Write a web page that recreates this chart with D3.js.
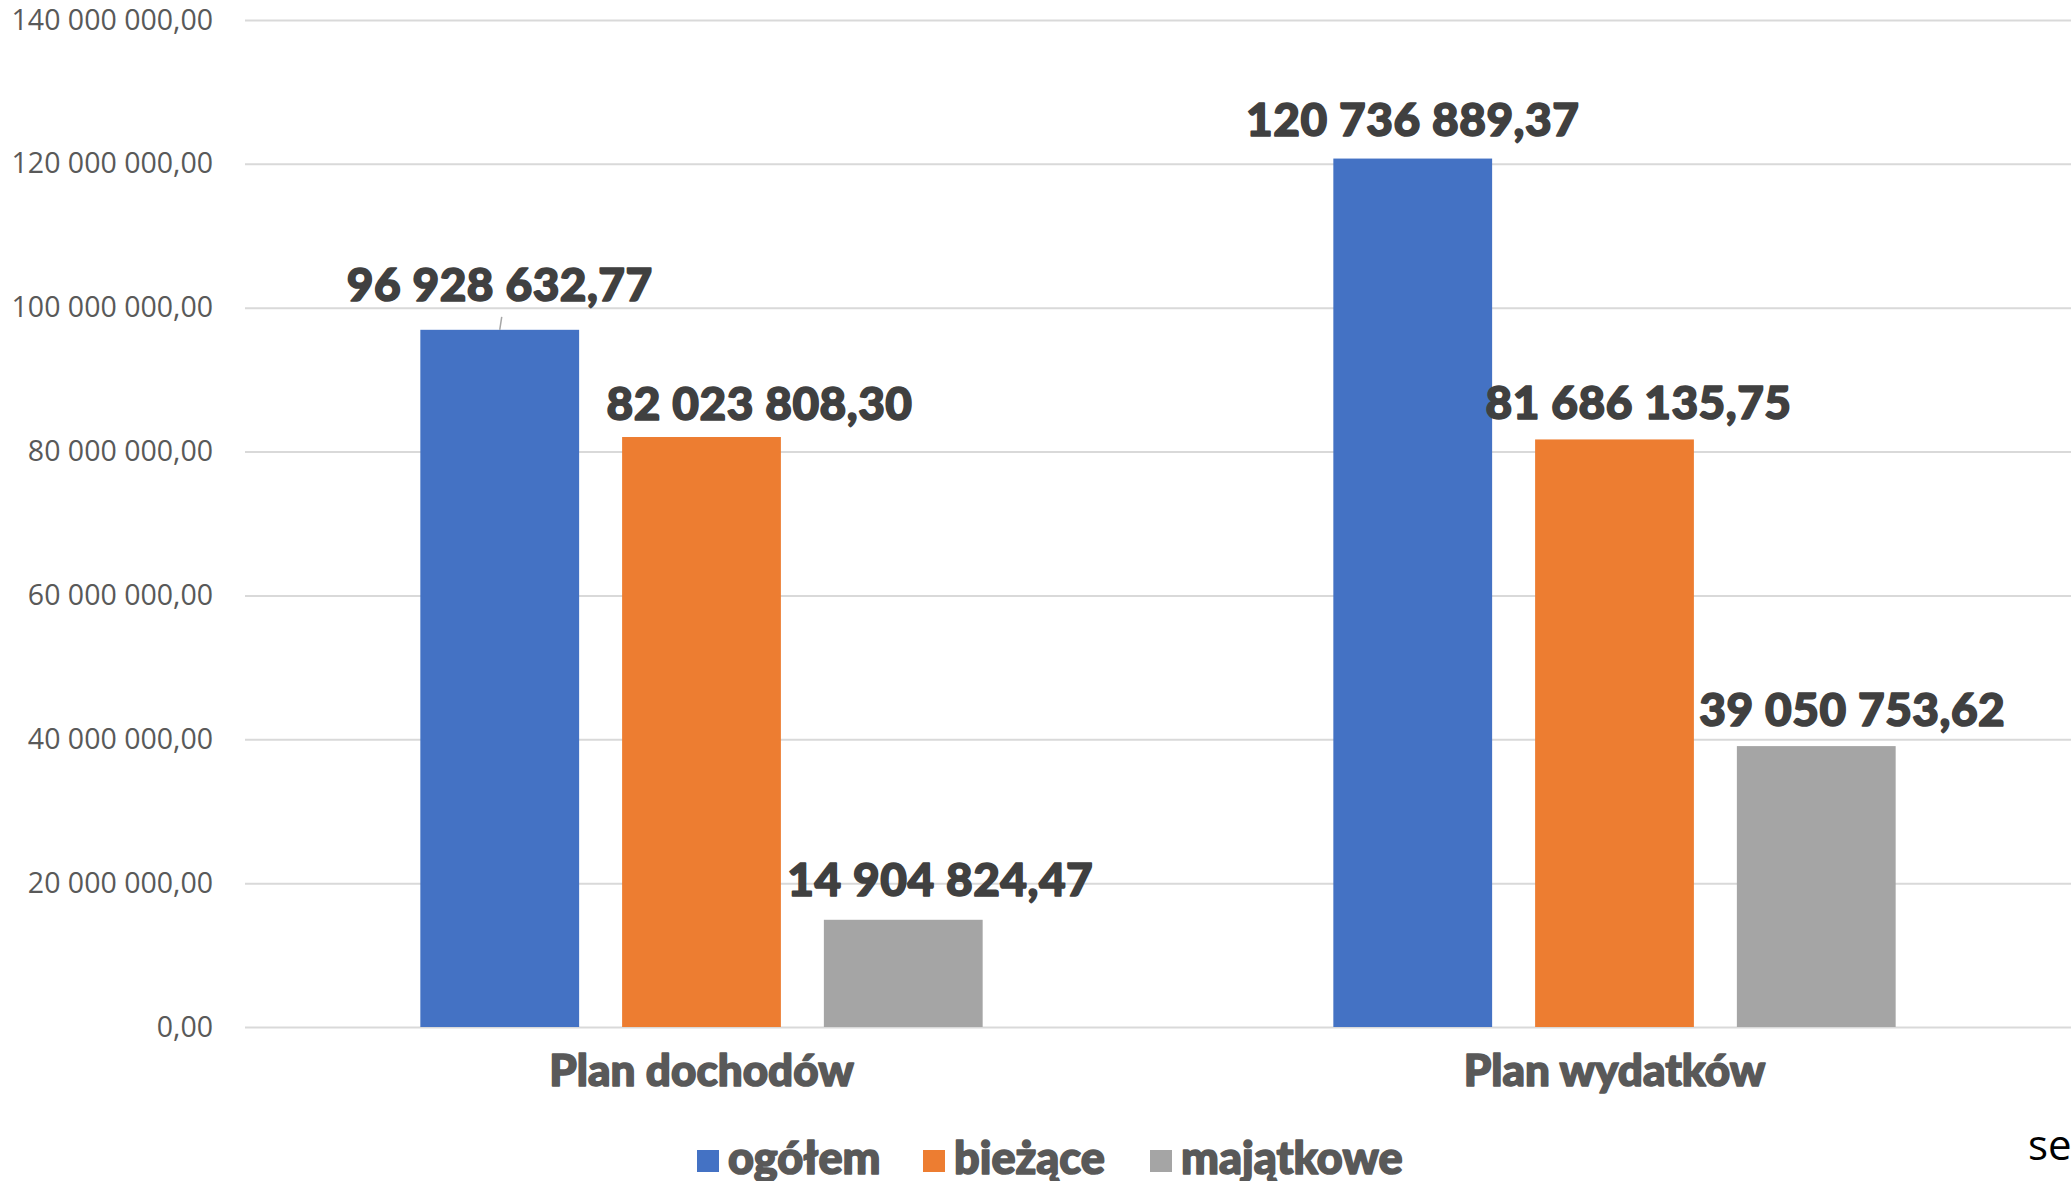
<!DOCTYPE html>
<html>
<head>
<meta charset="utf-8">
<script src="https://cdn.jsdelivr.net/npm/d3@7"></script>
<style>
    body { margin: 0; background: #fff; }
    svg { display: block; }
</style>
</head>
<body>
<div id="chart"></div>
<script>
// dane wykresu
const categories = ["Plan dochodów", "Plan wydatków"];
const seriesNames = ["ogółem", "bieżące", "majątkowe"];
const seriesColors = ["#4472c4", "#ed7d31", "#a5a5a5"];
const ogolem = [96928632.77, 120736889.37];
const biezace = [82023808.30, 81686135.75];
const majatkowe = [14904824.47, 39050753.62];
const yTicks = [0, 20000000, 40000000, 60000000, 80000000, 100000000, 120000000, 140000000];

const width = 2071;
const height = 1181;
const plot = { left: 245, right: 2071, top: 20, bottom: 1027 };

const pl = d3.formatLocale({ decimal: ",", thousands: " ", grouping: [3], currency: ["", ""] });
const fmt = pl.format(",.2f");

const seriesValues = [ogolem, biezace, majatkowe];
const rows = [];
categories.forEach((cat, ci) => {
    seriesNames.forEach((s, si) => {
        rows.push({ cat: cat, series: s, si: si, value: seriesValues[si][ci] });
    });
});

const svg = d3.select("#chart")
    .append("svg")
    .attr("width", width)
    .attr("height", height);

svg.append("rect").attr("width", width).attr("height", height).attr("fill", "#fff");

const x0 = d3.scaleBand()
    .domain(categories)
    .range([plot.left, plot.right])
    .padding(0);

const x1 = d3.scaleBand()
    .domain(seriesNames)
    .range([0, x0.bandwidth()])
    .paddingInner(0.213)
    .paddingOuter(0.869);

const y = d3.scaleLinear()
    .domain([0, 140000000])
    .range([plot.bottom, plot.top]);

// siatka + etykiety osi Y
const yAxis = svg.append("g")
    .attr("transform", `translate(${plot.left},0)`)
    .call(d3.axisLeft(y)
        .tickValues(yTicks)
        .tickSize(-(plot.right - plot.left))
        .tickPadding(32)
        .tickFormat(fmt));

yAxis.select(".domain").remove();
yAxis.selectAll(".tick line")
    .attr("stroke", "#d9d9d9")
    .attr("stroke-width", 2);
yAxis.selectAll(".tick text")
    .attr("fill", "#595959")
    .style("font-family", "'Open Sans', sans-serif")
    .style("font-size", "28.5px");

// slupki
svg.append("g")
    .selectAll("rect")
    .data(rows)
    .enter()
    .append("rect")
    .attr("x", (d) => x0(d.cat) + x1(d.series))
    .attr("y", (d) => y(d.value))
    .attr("width", x1.bandwidth())
    .attr("height", (d) => y(0) - y(d.value))
    .attr("fill", (d) => seriesColors[d.si]);

// przesuniecia etykiet (recznie jak w oryginale)
const labelNudge = [[0, -29], [58, -17], [37, -24], [0, -23], [24, -20], [36, -20]];

const heavy = (sel, size, color) => sel
    .attr("fill", color)
    .attr("stroke", color)
    .attr("stroke-width", 1.6)
    .attr("stroke-linejoin", "round")
    .style("font-family", "Lato, sans-serif")
    .style("font-weight", 900)
    .style("font-size", size);

svg.append("g")
    .selectAll("text")
    .data(rows)
    .enter()
    .append("text")
    .attr("x", (d, i) => x0(d.cat) + x1(d.series) + x1.bandwidth() / 2 + labelNudge[i][0])
    .attr("y", (d, i) => y(d.value) + labelNudge[i][1])
    .attr("text-anchor", "middle")
    .call(heavy, "46px", "#404040")
    .style("letter-spacing", "0.5px")
    .text((d) => fmt(d.value));

// linia wiodaca dla pierwszej etykiety
const first = rows[0];
const fx = x0(first.cat) + x1(first.series) + x1.bandwidth() / 2;
svg.append("line")
    .attr("x1", fx + 2)
    .attr("y1", y(first.value) - 13)
    .attr("x2", fx)
    .attr("y2", y(first.value))
    .attr("stroke", "#a6a6a6")
    .attr("stroke-width", 1.5);

// etykiety kategorii
svg.append("g")
    .selectAll("text")
    .data(categories)
    .enter()
    .append("text")
    .attr("x", (d) => x0(d) + x0.bandwidth() / 2)
    .attr("y", 1086)
    .attr("text-anchor", "middle")
    .call(heavy, "44px", "#595959")
    .text((d) => d);

// legenda
const legendX = [697, 923, 1150];
const legend = svg.append("g")
    .selectAll("g")
    .data(seriesNames)
    .enter()
    .append("g")
    .attr("transform", (d, i) => `translate(${legendX[i]},1150)`);

legend.append("rect")
    .attr("width", 22)
    .attr("height", 22)
    .attr("fill", (d, i) => seriesColors[i]);

legend.append("text")
    .attr("x", 31)
    .attr("y", 24)
    .call(heavy, "45px", "#595959")
    .text((d) => d);

// ucięty tekst w prawym dolnym rogu
svg.append("text")
    .attr("x", 2028)
    .attr("y", 1160)
    .attr("fill", "#000")
    .style("font-family", "'Open Sans', sans-serif")
    .style("font-size", "42px")
    .text("se");
</script>
</body>
</html>
